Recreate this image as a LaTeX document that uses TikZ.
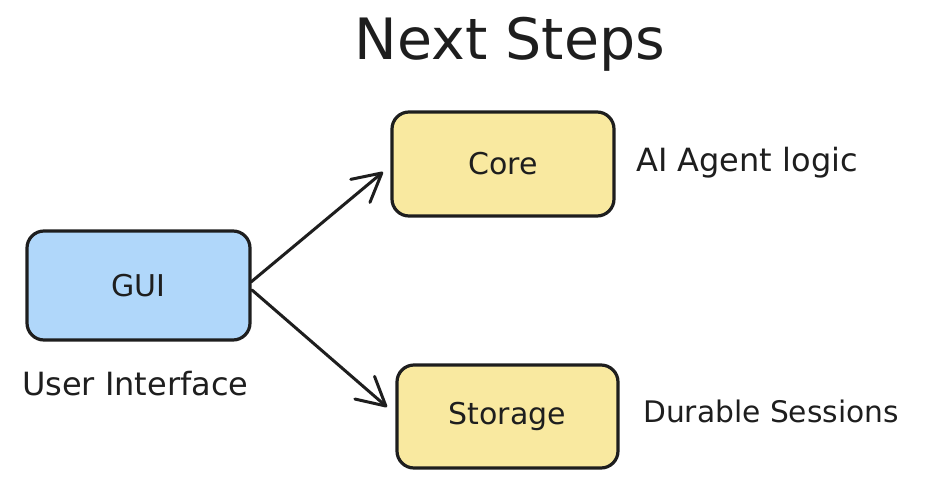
\documentclass[tikz,border=0pt]{standalone}
\usepackage{fontspec}
\setmainfont{DejaVu Sans}
\usetikzlibrary{arrows.meta}
\definecolor{ink}{HTML}{1E1E1E}
\definecolor{bluefill}{HTML}{B0D7FA}
\definecolor{yellowfill}{HTML}{F9E9A0}
\tikzset{
  box/.style={draw=ink, line width=3.2pt, rounded corners=17pt, inner sep=0pt, font=\fontsize{30}{34}\selectfont, text=ink},
  bluebox/.style={box, fill=bluefill},
  yellowbox/.style={box, fill=yellowfill},
  lbl/.style={font=\fontsize{32}{38}\selectfont, text=ink, inner sep=0pt},
  conn/.style={draw=ink, line width=3pt, line cap=round, -{Straight Barb[length=28pt,width=30pt,line width=3pt,round]}},
}
\begin{document}
\begin{tikzpicture}[x=1pt,y=-1pt]
\useasboundingbox (0,0) rectangle (929,493);
\node[lbl, font=\fontsize{57}{64}\selectfont] (title) at (510,44) {Next Steps};
\node[bluebox, minimum width=223pt, minimum height=109pt] (gui) at (138.5,285.5) {GUI};
\node[yellowbox, minimum width=222pt, minimum height=104pt] (core) at (503,164) {Core};
\node[yellowbox, minimum width=221pt, minimum height=103pt] (storage) at (507.5,416.5) {Storage};
\node[lbl, anchor=west] (corelbl) at (636,163) {AI Agent logic};
\node[lbl, anchor=west, font=\fontsize{29.7}{35}\selectfont] (storagelbl) at (643,411) {Durable Sessions};
\node[lbl, anchor=west] (guilbl) at (22,384) {User Interface};
\coordinate (g1) at (251,282);
\coordinate (g2) at (252,290);
\coordinate (c1) at (383,172);
\coordinate (s1) at (387,407);
\draw[conn] (g1) -- (c1);
\draw[conn] (g2) -- (s1);
\end{tikzpicture}
\end{document}
